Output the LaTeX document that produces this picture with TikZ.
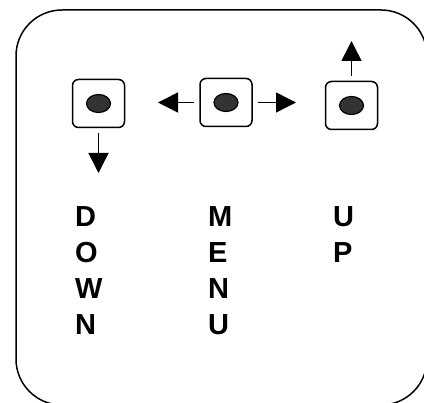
\documentclass[tikz,border=0pt]{standalone}
\usepackage{fontspec}
\setmainfont{Liberation Sans}
\usetikzlibrary{arrows.meta,shapes.geometric}
\begin{document}
\begin{tikzpicture}[x=1pt,y=-1pt,
  btn/.style={draw,line width=1.5pt,rounded corners=6pt,minimum width=52pt,minimum height=48pt,inner sep=0pt,fill=white},
  dot/.style={draw,ellipse,fill=black!80,line width=1.2pt,minimum width=24pt,minimum height=18pt,inner sep=0pt},
  arr/.style={line width=1.5pt,-{Triangle[length=20pt,width=20pt]},shorten <=5pt},
  lbl/.style={anchor=north west,align=left,inner sep=0pt,font=\fontsize{29}{36}\selectfont\bfseries}]
\useasboundingbox (0,0) rectangle (424,403);
\clip (0,0) rectangle (424,403);
\draw[line width=1.5pt,rounded corners=46pt] (16,10) rectangle (427,405);
\node[btn] (down) at (98.5,103.5) {};
\node[dot] (downdot) at (down.center) {};
\node[btn] (menu) at (226,102.5) {};
\node[dot] (menudot) at (menu.center) {};
\node[btn] (up) at (351.5,105.5) {};
\node[dot] (updot) at (up.center) {};
\coordinate (downend) at (98.5,173);
\coordinate (leftend) at (158,102.5);
\coordinate (rightend) at (296,102.5);
\coordinate (upend) at (351.5,41);
\draw[arr] (down.south) -- (downend);
\draw[arr] (menu.west) -- (leftend);
\draw[arr] (menu.east) -- (rightend);
\draw[arr] (up.north) -- (upend);
\node[lbl] (downlbl) at (75,206) {D\\O\\W\\N};
\node[lbl] (menulbl) at (208,206) {M\\E\\N\\U};
\node[lbl] (uplbl) at (333,206) {U\\P};
\end{tikzpicture}
\end{document}
